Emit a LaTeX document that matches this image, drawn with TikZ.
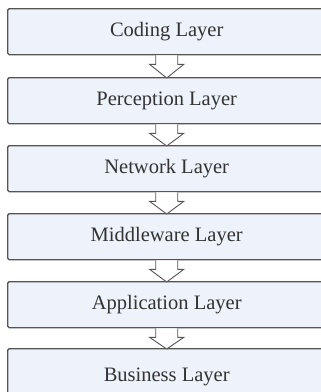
\documentclass[tikz,border=0pt]{standalone}
\usepackage{fontspec}
\setmainfont{Liberation Serif}
\usetikzlibrary{calc}
\definecolor{boxfill}{HTML}{EEF2FA}
\definecolor{boxline}{HTML}{555555}
\tikzset{
  layer/.style={draw=boxline, line width=1.4pt, fill=boxfill, rounded corners=1.5pt,
    minimum width=318pt, minimum height=46pt, inner sep=0pt, anchor=north west,
    font=\fontsize{20.5}{24}\selectfont, text=black!80},
  blockarrow/.style={draw=boxline, line width=0.9pt, fill=white, line join=miter}
}
\newcommand{\downarrowbetween}[2]{%
  \draw[blockarrow] ($(#1.south)+(-11,0)$) -- ($(#1.south)+(-11,-9)$) -- ($(#1.south)+(-17,-9)$)
    -- ($(#2.north)+(0,-1)$) -- ($(#1.south)+(17,-9)$) -- ($(#1.south)+(11,-9)$)
    -- ($(#1.south)+(11,0)$);}
\begin{document}
\begin{tikzpicture}[x=1pt,y=1pt]
\useasboundingbox (0,0) rectangle (321,-392);
\node[layer] (b1) at (7,-8) {Coding Layer};
\node[layer] (b2) at (7,-77) {Perception Layer};
\node[layer] (b3) at (7,-145) {Network Layer};
\node[layer] (b4) at (7,-213) {Middleware Layer};
\node[layer] (b5) at (7,-281) {Application Layer};
\node[layer, minimum height=60pt] (b6) at (7,-348) {\raisebox{7pt}{Business Layer}};
\downarrowbetween{b1}{b2}
\downarrowbetween{b2}{b3}
\downarrowbetween{b3}{b4}
\downarrowbetween{b4}{b5}
\downarrowbetween{b5}{b6}
\end{tikzpicture}
\end{document}
